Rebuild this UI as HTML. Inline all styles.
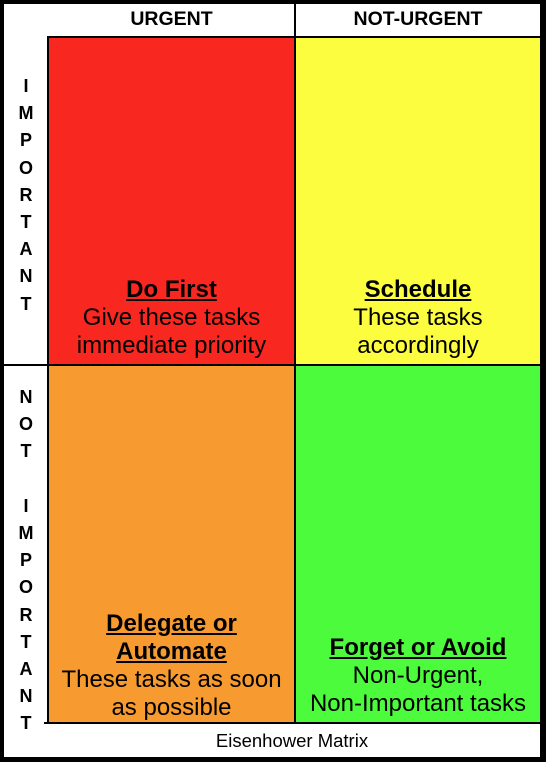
<!DOCTYPE html>
<html><head><style>
body{margin:0;width:546px;height:762px;position:relative;background:#000;font-family:"Liberation Sans",Arial,sans-serif;overflow:hidden}
.a{position:absolute}
.w{background:#fff}
.h{font-weight:bold;font-size:19.5px;text-align:center;line-height:38px}
.q{position:absolute;text-align:center;font-size:24px;line-height:28px;color:#000}
.q b{text-decoration:underline}
.v{position:absolute;left:4px;width:44px;text-align:center;font-weight:bold;font-size:18px;line-height:27.2px}
</style></head><body>
<div class="a w" style="left:4px;top:4px;width:536px;height:753px"></div>
<div class="a" style="left:47px;top:36px;width:493px;height:2px;background:#000"></div>
<div class="a" style="left:294px;top:4px;width:2px;height:720px;background:#000"></div>
<div class="a" style="left:47px;top:36px;width:2px;height:688px;background:#000"></div>
<div class="a" style="left:4px;top:364px;width:536px;height:2px;background:#000"></div>
<div class="a" style="left:44px;top:722px;width:496px;height:2px;background:#000"></div>
<div class="a h" style="left:49px;top:0;width:245px">URGENT</div>
<div class="a h" style="left:296px;top:0;width:244px">NOT-URGENT</div>
<div class="a" style="left:49px;top:38px;width:245px;height:326px;background:#f8271f"></div>
<div class="a" style="left:296px;top:38px;width:244px;height:326px;background:#fdfd40"></div>
<div class="a" style="left:49px;top:366px;width:245px;height:356px;background:#f79a2f"></div>
<div class="a" style="left:296px;top:366px;width:244px;height:356px;background:#4cfb3c"></div>
<div class="q" style="left:49px;width:245px;top:276px"><b>Do First</b><br>Give these tasks<br>immediate priority</div>
<div class="q" style="left:296px;width:244px;top:276px"><b>Schedule</b><br>These tasks<br>accordingly</div>
<div class="q" style="left:49px;width:245px;top:610px"><b>Delegate or<br>Automate</b><br>These tasks as soon<br>as possible</div>
<div class="q" style="left:296px;width:244px;top:634px"><b>Forget or Avoid</b><br>Non-Urgent,<br>Non-Important tasks</div>
<div class="v" style="top:73px">I<br>M<br>P<br>O<br>R<br>T<br>A<br>N<br>T</div>
<div class="v" style="top:384px">N<br>O<br>T<br><br>I<br>M<br>P<br>O<br>R<br>T<br>A<br>N<br>T</div>
<div class="a" style="left:44px;width:496px;top:724px;height:33px;line-height:33px;text-align:center;font-size:18.5px">Eisenhower Matrix</div>
</body></html>
